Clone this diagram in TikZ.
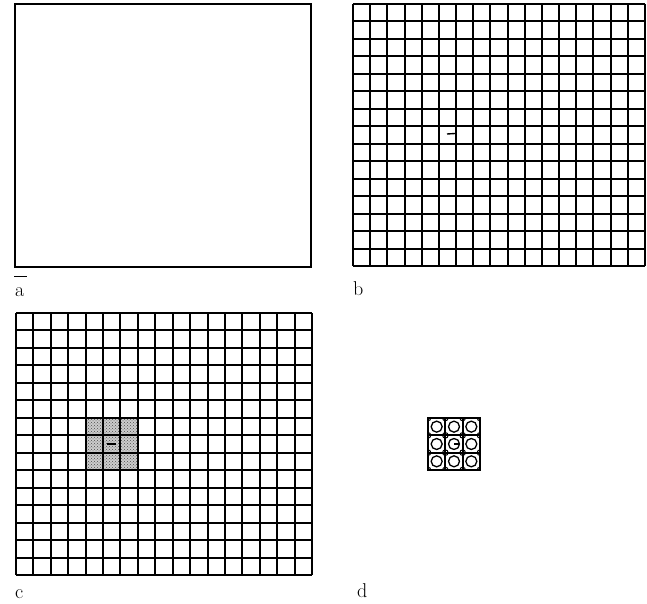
\documentclass[tikz,border=0pt]{standalone}
\usetikzlibrary{patterns}
\begin{document}
\begin{tikzpicture}[x=1pt,y=-1pt,
  gridline/.style={line width=1.6pt},
  frame/.style={line width=1.8pt},
  lab/.style={anchor=base west, inner sep=0pt, font=\fontsize{20}{24}\selectfont}]
\useasboundingbox (0,0) rectangle (647,604);
% ---------- panel a
\draw[frame] (15,4) rectangle (311,267);
\draw[line width=0.8pt] (14,276) -- (27,276);
\node[lab] (la) at (15,296) {a};
% ---------- panel b
\draw[gridline]
  \foreach \i in {0,...,17} { ({round(353+\i*17.1765)},4) -- ({round(353+\i*17.1765)},266) }
  \foreach \j in {0,...,15} { (353,{round(4+\j*17.4667)}) -- (645,{round(4+\j*17.4667)}) };
\draw[line width=1.4pt] (447,134) -- (455,133.5);
\node[lab] (lb) at (353,295) {b};
% ---------- panel c
\fill[black!20] ({round(16+4*17.4118)},{round(313+6*17.4667)}) rectangle ({round(16+7*17.4118)},{round(313+9*17.4667)});
\fill[pattern=crosshatch dots, pattern color=black!70] ({round(16+4*17.4118)},{round(313+6*17.4667)}) rectangle ({round(16+7*17.4118)},{round(313+9*17.4667)});
\draw[gridline]
  \foreach \i in {0,...,17} { ({round(16+\i*17.4118)},313) -- ({round(16+\i*17.4118)},575) }
  \foreach \j in {0,...,15} { (16,{round(313+\j*17.4667)}) -- (312,{round(313+\j*17.4667)}) };
\draw[line width=1.5pt] (107,444) -- (116,444);
\node[lab] (lc) at (15,598) {c};
% ---------- panel d
\begin{scope}[shift={(428,418)}]
  \def\s{17.33}
  \foreach \k in {0,...,3} {
    \draw[line width=1.1pt] ({round(\k*\s)},0) -- ({round(\k*\s)},52);
    \draw[line width=1.1pt] (0,{round(\k*\s)}) -- (52,{round(\k*\s)});
  }
  \begin{scope}
    \clip (0,0) rectangle (52,52);
    \foreach \i in {0,1,2} \foreach \j in {0,1,2}
      \draw[line width=1.3pt] ({(\i+0.5)*\s},{(\j+0.5)*\s}) circle (5.5);
    \foreach \i in {0,...,3} \foreach \j in {0,...,3} {
      \draw[line width=1pt] ({\i*\s},{\j*\s}) circle (2.8);
    }
  \end{scope}
  \draw[line width=1.1pt] ({1.5*\s},{1.5*\s}) -- ({1.5*\s+4.5},{1.5*\s});
  \draw[frame] (0,0) rectangle (52,52);
\end{scope}
\node[lab] (ld) at (357,597) {d};
\end{tikzpicture}
\end{document}
